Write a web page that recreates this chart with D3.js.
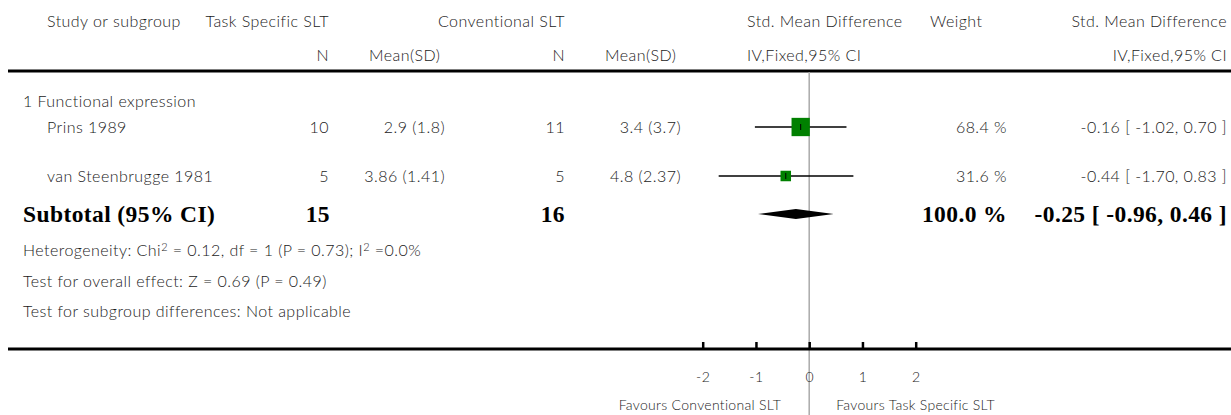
<!DOCTYPE html>
<html><head><meta charset="utf-8">
<script src="https://cdn.jsdelivr.net/npm/d3@7"></script>
<style>
body{margin:0;background:#fff}
svg text{font-family:Lato, "Open Sans", sans-serif;font-size:16px;font-weight:300;letter-spacing:0.45px;fill:#1a1a1a}
svg text.b{font-family:"Liberation Serif", serif;font-weight:bold;font-size:23.5px;letter-spacing:0.4px;fill:#000}
svg text.s{font-size:14px;letter-spacing:0.3px}
</style>
</head><body><svg id="c" width="1231" height="415"></svg>
<script>
// ---- data ----
const studies = ["Prins 1989", "van Steenbrugge 1981"];
const n1 = [10, 5];
const mean1 = ["2.9 (1.8)", "3.86 (1.41)"];
const n2 = [11, 5];
const mean2 = ["3.4 (3.7)", "4.8 (2.37)"];
const smd = [-0.16, -0.44];
const ciLow = [-1.02, -1.70];
const ciHigh = [0.70, 0.83];
const weights = [68.4, 31.6];
const subtotalN = [15, 16];
const subtotalEffect = [-0.25, -0.96, 0.46]; // est, low, high
const subtotalWeight = 100.0;
const axisTicks = [-2, -1, 0, 1, 2];
const groupLabel = "1 Functional expression";
const leftLabel = "Favours Conventional SLT";
const rightLabel = "Favours Task Specific SLT";

// ---- layout ----
const svg = d3.select("#c");
const x = d3.scaleLinear().domain([-2, 2]).range([702.7, 915.7]);
const size = d3.scaleLinear().domain([0, 100]).range([3.8, 25]);
const rowY = [127, 176];
const colN1 = 329, colM1 = 445, colN2 = 565, colM2 = 681, colW = 1007, colCI = 1227;
const fmt2 = v => v.toFixed(2);
const ciText = (e, l, h) => `${fmt2(e)} [ ${fmt2(l)}, ${fmt2(h)} ]`;

function t(xp, yp, s, anchor, cls) {
  return svg.append("text").attr("x", xp).attr("y", yp).attr("dy", "0.35em")
    .attr("text-anchor", anchor || "start").attr("class", cls || null).text(s);
}

// header
t(47, 21, "Study or subgroup");
t(colN1, 21, "Task Specific SLT", "end");
t(colN2, 21, "Conventional SLT", "end");
t(747, 21, "Std. Mean Difference");
t(930, 21, "Weight");
t(colCI, 21, "Std. Mean Difference", "end");
t(colN1, 55, "N", "end");
t(369, 55, "Mean(SD)");
t(colN2, 55, "N", "end");
t(605, 55, "Mean(SD)");
t(747, 55, "IV,Fixed,95% CI");
t(colCI, 55, "IV,Fixed,95% CI", "end");

// rules
svg.append("line").attr("x1", 8).attr("x2", 1231).attr("y1", 71).attr("y2", 71)
  .attr("stroke", "#000").attr("stroke-width", 3);

// zero line
svg.append("line").attr("x1", x(0)).attr("x2", x(0)).attr("y1", 72).attr("y2", 415)
  .attr("stroke", "#aaa").attr("stroke-width", 1.5);

t(23, 101, groupLabel);

studies.forEach((s, i) => {
  const y = rowY[i];
  t(47, y, s);
  t(colN1, y, n1[i], "end");
  t(colM1, y, mean1[i], "end");
  t(colN2, y, n2[i], "end");
  t(colM2, y, mean2[i], "end");
  t(colW, y, weights[i].toFixed(1) + " %", "end");
  t(colCI, y, ciText(smd[i], ciLow[i], ciHigh[i]), "end");
  svg.append("line").attr("x1", x(ciLow[i])).attr("x2", x(ciHigh[i]))
    .attr("y1", y).attr("y2", y).attr("stroke", "#000").attr("stroke-width", 1.3);
  const sz = size(weights[i]);
  svg.append("rect").attr("x", x(smd[i]) - sz / 2).attr("y", y - sz / 2)
    .attr("width", sz).attr("height", sz).attr("fill", "#008000");
  svg.append("line").attr("x1", x(smd[i])).attr("x2", x(smd[i]))
    .attr("y1", y - 3).attr("y2", y + 3).attr("stroke", "#000").attr("stroke-width", 1);
});

// subtotal
const sy = 214;
t(23, sy, "Subtotal (95% CI)", "start", "b");
t(colN1 + 1, sy, subtotalN[0], "end", "b");
t(colN2, sy, subtotalN[1], "end", "b");
t(colW, sy, subtotalWeight.toFixed(1) + " %", "end", "b");
t(colCI, sy, ciText(...subtotalEffect), "end", "b");
const [se, sl, sh] = subtotalEffect;
svg.append("path")
  .attr("d", `M${x(sl)},${sy}L${x(se)},${sy - 5}L${x(sh)},${sy}L${x(se)},${sy + 5}Z`)
  .attr("fill", "#000");

// footnotes
const het = svg.append("text").attr("x", 23).attr("y", 250).attr("dy", "0.35em");
het.append("tspan").text("Heterogeneity: Chi");
het.append("tspan").attr("dy", -5).style("font-size", "11px").text("2");
het.append("tspan").attr("dy", 5).text(" = 0.12, df = 1 (P = 0.73); I");
het.append("tspan").attr("dy", -5).style("font-size", "11px").text("2");
het.append("tspan").attr("dy", 5).text(" =0.0%");
t(23, 281, "Test for overall effect: Z = 0.69 (P = 0.49)");
t(23, 311, "Test for subgroup differences: Not applicable");

// axis
const axY = 349;
svg.append("line").attr("x1", 8).attr("x2", 1231).attr("y1", axY).attr("y2", axY)
  .attr("stroke", "#000").attr("stroke-width", 3);
const ax = svg.append("g").attr("transform", `translate(0,${axY})`)
  .call(d3.axisBottom(x).tickValues(axisTicks).tickFormat(d => String(d))
    .tickSize(-7).tickPadding(23));
ax.select(".domain").remove();
ax.selectAll(".tick line").attr("stroke", "#000").attr("stroke-width", 2.5);
ax.selectAll(".tick text").attr("font-family", null).attr("font-size", null)
  .style("font-size", "14px");

t(x(0) - 28, 405, leftLabel, "end", "s");
t(x(0) + 27, 405, rightLabel, "start", "s");
</script></body></html>
